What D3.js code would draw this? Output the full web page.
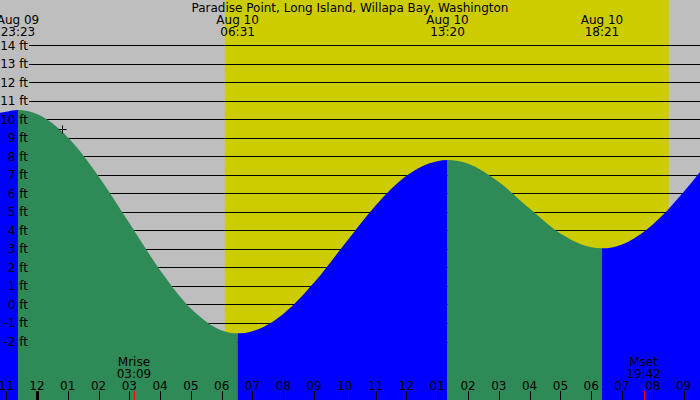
<!DOCTYPE html>
<html>
<head>
<meta charset="utf-8">
<script src="https://cdn.jsdelivr.net/npm/d3@7"></script>
<style>
body { margin: 0; background: #fff; }
svg { display: block; }
text { font-family: "DejaVu Sans", sans-serif; font-size: 12px; fill: #000; }
</style>
</head>
<body>
<div id="tide"></div>
<script>
const title = "Paradise Point, Long Island, Willapa Bay, Washington"

// tide height (ft)
const tideTimes = [
    "2024-08-09 22:48", "2024-08-09 23:00", "2024-08-09 23:23",
    "2024-08-10 00:00", "2024-08-10 01:00", "2024-08-10 02:00", "2024-08-10 03:00",
    "2024-08-10 04:00", "2024-08-10 05:00", "2024-08-10 06:00", "2024-08-10 06:31",
    "2024-08-10 07:00", "2024-08-10 08:00", "2024-08-10 09:00", "2024-08-10 10:00",
    "2024-08-10 11:00", "2024-08-10 12:00", "2024-08-10 13:00", "2024-08-10 13:20",
    "2024-08-10 14:00", "2024-08-10 15:00", "2024-08-10 16:00", "2024-08-10 17:00",
    "2024-08-10 18:00", "2024-08-10 18:21", "2024-08-10 19:00", "2024-08-10 20:00",
    "2024-08-10 21:00", "2024-08-10 21:32"
]
const tideFeet = [
    10.35, 10.41, 10.5,
    10.28, 9.03, 6.93, 4.4,
    1.85, -0.22, -1.4, -1.56,
    -1.44, -0.51, 1.18, 3.28,
    5.35, 6.95, 7.74, 7.8,
    7.6, 6.61, 5.18, 3.83,
    3.09, 3.03, 3.24, 4.32,
    6.07, 7.15
]

const extremeTimes = ["2024-08-09 23:23", "2024-08-10 06:31", "2024-08-10 13:20", "2024-08-10 18:21"]
const extremeDays = ["Aug 09", "Aug 10", "Aug 10", "Aug 10"]
const extremeClock = ["23:23", "06:31", "13:20", "18:21"]

const sunTimes = ["2024-08-10 06:06", "2024-08-10 20:31"]

const moonNames = ["Mrise", "Mset"]
const moonTimes = ["2024-08-10 03:09", "2024-08-10 19:42"]
const moonClock = ["03:09", "19:42"]

const feetTicks = [-2, -1, 0, 1, 2, 3, 4, 5, 6, 7, 8, 9, 10, 11, 12, 13, 14]

const hourTicks = [
    "2024-08-09 23:00", "2024-08-10 00:00", "2024-08-10 01:00", "2024-08-10 02:00",
    "2024-08-10 03:00", "2024-08-10 04:00", "2024-08-10 05:00", "2024-08-10 06:00",
    "2024-08-10 07:00", "2024-08-10 08:00", "2024-08-10 09:00", "2024-08-10 10:00",
    "2024-08-10 11:00", "2024-08-10 12:00", "2024-08-10 13:00", "2024-08-10 14:00",
    "2024-08-10 15:00", "2024-08-10 16:00", "2024-08-10 17:00", "2024-08-10 18:00",
    "2024-08-10 19:00", "2024-08-10 20:00", "2024-08-10 21:00"
]
const hourLabels = ["11", "12", "01", "02", "03", "04", "05", "06", "07", "08", "09", "10",
    "11", "12", "01", "02", "03", "04", "05", "06", "07", "08", "09"]

const nowTime = "2024-08-10 00:49"
const nowFeet = 9.45


const parse = d3.timeParse("%Y-%m-%d %H:%M")

const drawTide = () => {

    const width = 700, height = 400

    const tide = tideTimes.map((t, i) => ({t: parse(t), ft: tideFeet[i]}))

    let x = d3.scaleTime()
        .domain([tide[0].t, tide[tide.length - 1].t])
        .range([0, width])
    let y = d3.scaleLinear()
        .domain([-2, 14])
        .range([341.5, 45.2])

    let svg = d3.select("#tide")
        .append("svg")
        .attr("width", width)
        .attr("height", height)

    svg.append("rect")
        .attr("width", width)
        .attr("height", height)
        .attr("fill", "#bebebe")

    // daylight
    svg.append("rect")
        .attr("x", x(parse(sunTimes[0])))
        .attr("width", x(parse(sunTimes[1])) - x(parse(sunTimes[0])))
        .attr("y", 0)
        .attr("height", height)
        .attr("fill", "#cccc00")

    svg.append("g")
        .selectAll("line")
        .data(feetTicks)
        .enter()
        .append("line")
        .attr("x1", 29)
        .attr("x2", width)
        .attr("y1", d => Math.round(y(d)) + 0.5)
        .attr("y2", d => Math.round(y(d)) + 0.5)
        .attr("stroke", "#000")
        .attr("stroke-width", 1)

    // tide area, split at highs and lows
    let area = d3.area()
        .x(d => x(d.t))
        .y0(height)
        .y1(d => y(d.ft))
        .curve(d3.curveMonotoneX)

    let bounds = [tide[0].t, ...extremeTimes.map(parse), tide[tide.length - 1].t]
    let ftAt = t => tide.find(d => +d.t === +t).ft

    let defs = svg.append("defs")
    bounds.slice(0, -1).forEach((lo, i) => {
        let hi = bounds[i + 1]
        defs.append("clipPath")
            .attr("id", "seg" + i)
            .append("rect")
            .attr("x", x(lo))
            .attr("width", x(hi) - x(lo))
            .attr("y", 0)
            .attr("height", height)
        svg.append("path")
            .datum(tide)
            .attr("d", area)
            .attr("clip-path", "url(#seg" + i + ")")
            .attr("fill", ftAt(hi) > ftAt(lo) ? "#0000ff" : "#2e8b57")
    })

    svg.append("g")
        .selectAll("text")
        .data(feetTicks)
        .enter()
        .append("text")
        .attr("x", 28)
        .attr("y", d => y(d) + 4.5)
        .attr("text-anchor", "end")
        .text(d => d + " ft")

    svg.append("text")
        .attr("x", width / 2)
        .attr("y", 12)
        .attr("text-anchor", "middle")
        .text(title)

    let top = svg.append("g")
        .selectAll("g")
        .data(extremeTimes)
        .enter()
        .append("g")
    top.append("text")
        .attr("x", d => x(parse(d)))
        .attr("y", 24)
        .attr("text-anchor", "middle")
        .text((d, i) => extremeDays[i])
    top.append("text")
        .attr("x", d => x(parse(d)))
        .attr("y", 36)
        .attr("text-anchor", "middle")
        .text((d, i) => extremeClock[i])

    // hour axis along the bottom
    let hours = svg.append("g")
        .selectAll("g")
        .data(hourTicks)
        .enter()
        .append("g")
    hours.append("line")
        .attr("x1", d => Math.round(x(parse(d))) + 0.5)
        .attr("x2", d => Math.round(x(parse(d))) + 0.5)
        .attr("y1", 391)
        .attr("y2", height)
        .attr("stroke", "#000")
        .attr("stroke-width", (d, i) => hourLabels[i] === "12" && d.endsWith("00:00") ? 3 : 1)
    hours.append("text")
        .attr("x", d => x(parse(d)))
        .attr("y", 390)
        .attr("text-anchor", "middle")
        .text((d, i) => hourLabels[i])

    let moon = svg.append("g")
        .selectAll("g")
        .data(moonTimes)
        .enter()
        .append("g")
    moon.append("line")
        .attr("x1", d => Math.round(x(parse(d))) + 0.5)
        .attr("x2", d => Math.round(x(parse(d))) + 0.5)
        .attr("y1", 391)
        .attr("y2", height)
        .attr("stroke", "#ff0000")
    moon.append("text")
        .attr("x", d => x(parse(d)))
        .attr("y", 366)
        .attr("text-anchor", "middle")
        .text((d, i) => moonNames[i])
    moon.append("text")
        .attr("x", d => x(parse(d)))
        .attr("y", 378)
        .attr("text-anchor", "middle")
        .text((d, i) => moonClock[i])

    // current reading marker
    let nx = Math.round(x(parse(nowTime))) + 0.5, ny = Math.round(y(nowFeet)) + 0.5
    svg.append("path")
        .attr("d", `M${nx - 4},${ny}H${nx + 4}M${nx},${ny - 4}V${ny + 4}`)
        .attr("stroke", "#000")
        .attr("fill", "none")

}

drawTide()
</script>
</body>
</html>
